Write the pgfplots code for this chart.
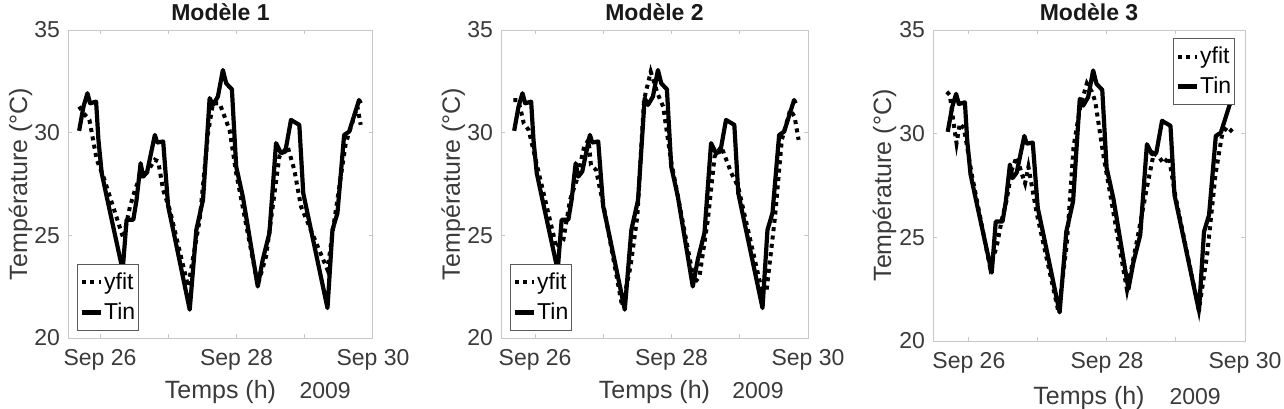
\documentclass[border=0pt]{standalone}
\usepackage{fontspec}
\setmainfont{Liberation Sans}
\usepackage{pgfplots}
\pgfplotsset{compat=1.18}
\usepackage{pgfplotstable}

\definecolor{txt}{HTML}{3A3A3A}
\definecolor{frame}{HTML}{C8C8C8}
\definecolor{legframe}{HTML}{5A5A5A}

% Time axis: days after Sep 26 2009 00:00
\pgfplotstableread{
t      T
-0.307 30.09
-0.243 31.27
-0.185 31.92
-0.146 31.43
-0.058 31.51
-0.024 29.65
0.024  28.03
0.097  26.89
0.331  23.30
0.389  25.76
0.487  25.76
0.535  26.73
0.594  28.51
0.633  27.86
0.691  28.11
0.803  29.89
0.837  29.52
0.925  29.57
0.998  26.41
1.071  25.27
1.314  21.38
1.411  25.27
1.509  26.73
1.606  31.68
1.655  31.35
1.727  31.76
1.800  33.05
1.849  32.40
1.932  32.11
1.995  28.35
2.092  26.89
2.311  22.51
2.384  23.81
2.482  25.11
2.579  29.49
2.652  29.00
2.715  29.08
2.798  30.62
2.920  30.38
2.978  27.05
3.333  21.46
3.406  25.27
3.479  26.08
3.577  29.89
3.650  30.05
3.796  31.59
3.820  31.43
}\tin

\pgfplotstableread{
t      T
-0.307 31.27
-0.219 30.86
-0.156 30.62
-0.049 28.68
0.049  27.86
0.341  24.86
0.438  26.40
0.511  27.20
0.584  27.86
0.681  28.03
0.803  28.68
0.852  28.60
0.925  27.20
1.022  26.24
1.290  22.51
1.460  25.76
1.582  29.97
1.655  31.43
1.752  31.43
1.898  30.13
1.995  28.03
2.311  22.59
2.433  23.97
2.628  28.84
2.749  29.32
2.847  28.19
2.944  26.41
3.333  23.32
3.406  25.11
3.601  29.49
3.771  31.27
3.820  30.38
}\fitA

\pgfplotstableread{
t      T
-0.320 31.59
-0.251 31.59
-0.217 31.19
-0.167 30.46
-0.094 30.13
0.020  28.51
0.315  24.38
0.414  24.78
0.512  26.73
0.611  27.70
0.719  29.32
0.783  29.65
0.818  28.43
0.892  28.19
1.005  26.41
1.276  21.54
1.399  23.49
1.498  25.92
1.596  31.59
1.695  32.97
1.793  31.92
1.877  31.27
1.990  28.68
2.335  22.68
2.409  23.00
2.532  25.76
2.631  28.84
2.729  29.32
2.877  28.03
2.975  27.38
3.320  22.35
3.394  22.35
3.517  25.92
3.616  29.65
3.739  31.11
3.803  30.78
3.862  29.65
}\fitB

\pgfplotstableread{
t      T
-0.320 32.02
-0.276 31.86
-0.228 30.66
-0.179 29.53
-0.131 30.49
-0.073 30.25
-0.034 29.53
0.039  28.08
0.305  23.57
0.402  24.54
0.475  25.83
0.547  26.79
0.620  28.24
0.692  28.88
0.765  28.08
0.814  27.60
0.862  28.40
0.983  26.15
1.298  21.40
1.419  24.70
1.516  29.37
1.613  31.30
1.709  32.43
1.782  32.02
1.831  31.54
1.952  28.88
2.291  22.45
2.436  24.86
2.581  27.44
2.678  29.05
2.751  28.88
2.823  28.56
2.896  28.88
2.993  26.95
3.332  21.48
3.453  24.22
3.574  28.08
3.671  30.01
3.743  30.33
3.816  30.09
}\fitC

\pgfplotsset{
  every axis title/.style={at={(0.5,1)}, anchor=base, yshift=5pt},
  panel/.style={
    scale only axis,
    clip=false,
    axis line style={frame, line width=0.5pt},
    tick style={frame, line width=0.5pt},
    major tick length=2pt,
    tick align=inside,
    ymin=20, ymax=35,
    ytick={20,25,30,35},
    xmax=4,
    xtick={0,1,2,3,4},
    xticklabels={Sep 26,,Sep 28,,Sep 30},
    /pgf/number format/assume math mode=true,
    tick label style={font=\fontsize{11.5}{13}\selectfont, text=txt},
    x tick label style={yshift=-2pt},
    y tick label style={xshift=-0.5pt},
    title style={font=\fontsize{11.5}{13}\selectfont\bfseries, text=black!90},
    xlabel style={at={(axis description cs:0.5,0)}, anchor=base, yshift=-30pt,
      font=\fontsize{12.5}{14}\selectfont, text=txt},
    ylabel style={at={(axis description cs:-0.134,0.5)}, anchor=base,
      font=\fontsize{12.5}{14}\selectfont, text=txt},
    xlabel={Temps (h)},
    ylabel={Température (°C)},
    legend cell align=left,
    legend style={draw=legframe, line width=0.6pt, fill=white,
      font=\fontsize{11.5}{13}\selectfont, inner xsep=1pt, inner ysep=2pt,
      row sep=1.2pt, column sep=0pt, text=black,
      nodes={inner xsep=0.6pt}},
    legend image code/.code={\draw[#1] (0pt,0pt) -- (9.5pt,0pt);},
  },
  tinline/.style={black, line width=2.1pt, line join=round},
  fitline/.style={black, line width=2pt, dash pattern=on 2pt off 2.2pt},
}

\begin{document}
\begin{tikzpicture}
\path[use as bounding box] (0,0) rectangle (642pt,204pt);

\begin{axis}[panel, at={(34pt,35pt)}, width=152.5pt, height=154pt,
  xmin=-0.47, title={Modèle 1},
  legend style={at={(0.03,0.023)}, anchor=south west}]
  \addplot[fitline] table[x=t,y=T] {\fitA};
  \addplot[tinline] table[x=t,y=T] {\tin};
  \legend{yfit,Tin}
  \node[anchor=base, font=\fontsize{11.5}{13}\selectfont, text=txt]
    at (axis description cs:0.843,0) [yshift=-30pt] {2009};
\end{axis}

\begin{axis}[panel, at={(250.5pt,35pt)}, width=153.5pt, height=154pt,
  xmin=-0.5, title={Modèle 2},
  legend style={at={(0.03,0.023)}, anchor=south west}]
  \addplot[fitline] table[x=t,y=T] {\fitB};
  \addplot[tinline] table[x=t,y=T] {\tin};
  \legend{yfit,Tin}
  \node[anchor=base, font=\fontsize{11.5}{13}\selectfont, text=txt]
    at (axis description cs:0.837,0) [yshift=-30pt] {2009};
\end{axis}

\begin{axis}[panel, at={(466.5pt,33.5pt)}, width=156pt, height=155.5pt,
  xmin=-0.52, title={Modèle 3},
  xlabel style={yshift=-1.5pt},
  legend style={at={(0.968,0.974)}, anchor=north east}]
  \addplot[fitline] table[x=t,y=T] {\fitC};
  \addplot[tinline] table[x=t,y=T] {\tin};
  \legend{yfit,Tin}
  \node[anchor=base, font=\fontsize{11.5}{13}\selectfont, text=txt]
    at (axis description cs:0.84,0) [yshift=-31.5pt] {2009};
\end{axis}
\end{tikzpicture}
\end{document}
